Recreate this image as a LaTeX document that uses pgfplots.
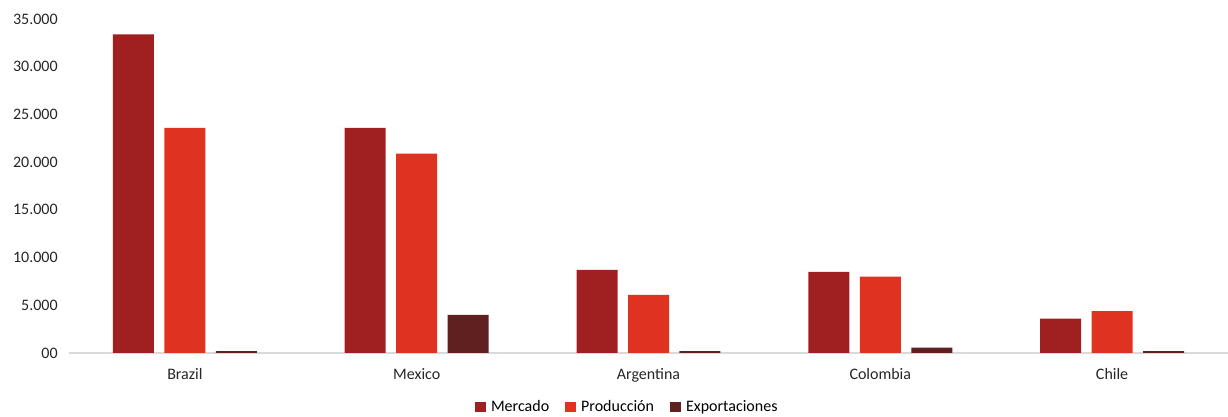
\documentclass[border=0pt]{standalone}
\usepackage{pgfplots}
\pgfplotsset{compat=1.18}
\usepackage{fontspec}
\setmainfont{Carlito}
\definecolor{merc}{RGB}{160,32,34}
\definecolor{prod}{RGB}{224,50,32}
\definecolor{expo}{RGB}{97,32,32}
\definecolor{axgray}{RGB}{217,217,217}
\begin{document}
\begin{tikzpicture}
\begin{axis}[
  at={(0,0)}, anchor=south west,
  scale only axis,
  width=869.25pt, height=250.5pt,
  ybar, bar width=30.75pt,
  scaled ticks=false,
  xmin=-0.5, xmax=4.5, ymin=0, ymax=35000,
  xtick={0,1,2,3,4},
  xticklabels={Brazil,Mexico,Argentina,Colombia,Chile},
  ytick={0,5000,10000,15000,20000,25000,30000,35000},
  yticklabels={00,5.000,10.000,15.000,20.000,25.000,30.000,35.000},
  major tick length=0pt,
  axis lines=left,
  y axis line style={draw=none},
  x axis line style={draw=axgray, line width=1pt, -},
  tick label style={font=\fontsize{12}{14}\selectfont, text=black!85},
  yticklabel style={xshift=-5pt},
  xticklabel style={yshift=-8pt},
  legend style={at={(axis description cs:0.482,-0.1617)}, anchor=center, draw=none,
    font=\fontsize{12}{14}\selectfont, legend columns=-1,
    /tikz/every odd column/.append style={column sep=2pt},
    /tikz/every even column/.append style={column sep=10pt}},
  legend image code/.code={\fill[#1] (0pt,-4pt) rectangle (8pt,4pt);},
]
\addplot[ybar, bar shift=-38.6pt, fill=merc, draw=none] coordinates {(0,33400) (1,23600) (2,8700) (3,8500) (4,3600)};
\addplot[ybar, bar shift=0pt, fill=prod, draw=none] coordinates {(0,23600) (1,20900) (2,6100) (3,8000) (4,4400)};
\addplot[ybar, bar shift=38.6pt, fill=expo, draw=none] coordinates {(0,200) (1,4000) (2,200) (3,550) (4,200)};
\legend{Mercado,Producción,Exportaciones}
\end{axis}
\pgfresetboundingbox
\path (-51.75pt,-48pt) rectangle (869.25pt,264.75pt);
\end{tikzpicture}
\end{document}
